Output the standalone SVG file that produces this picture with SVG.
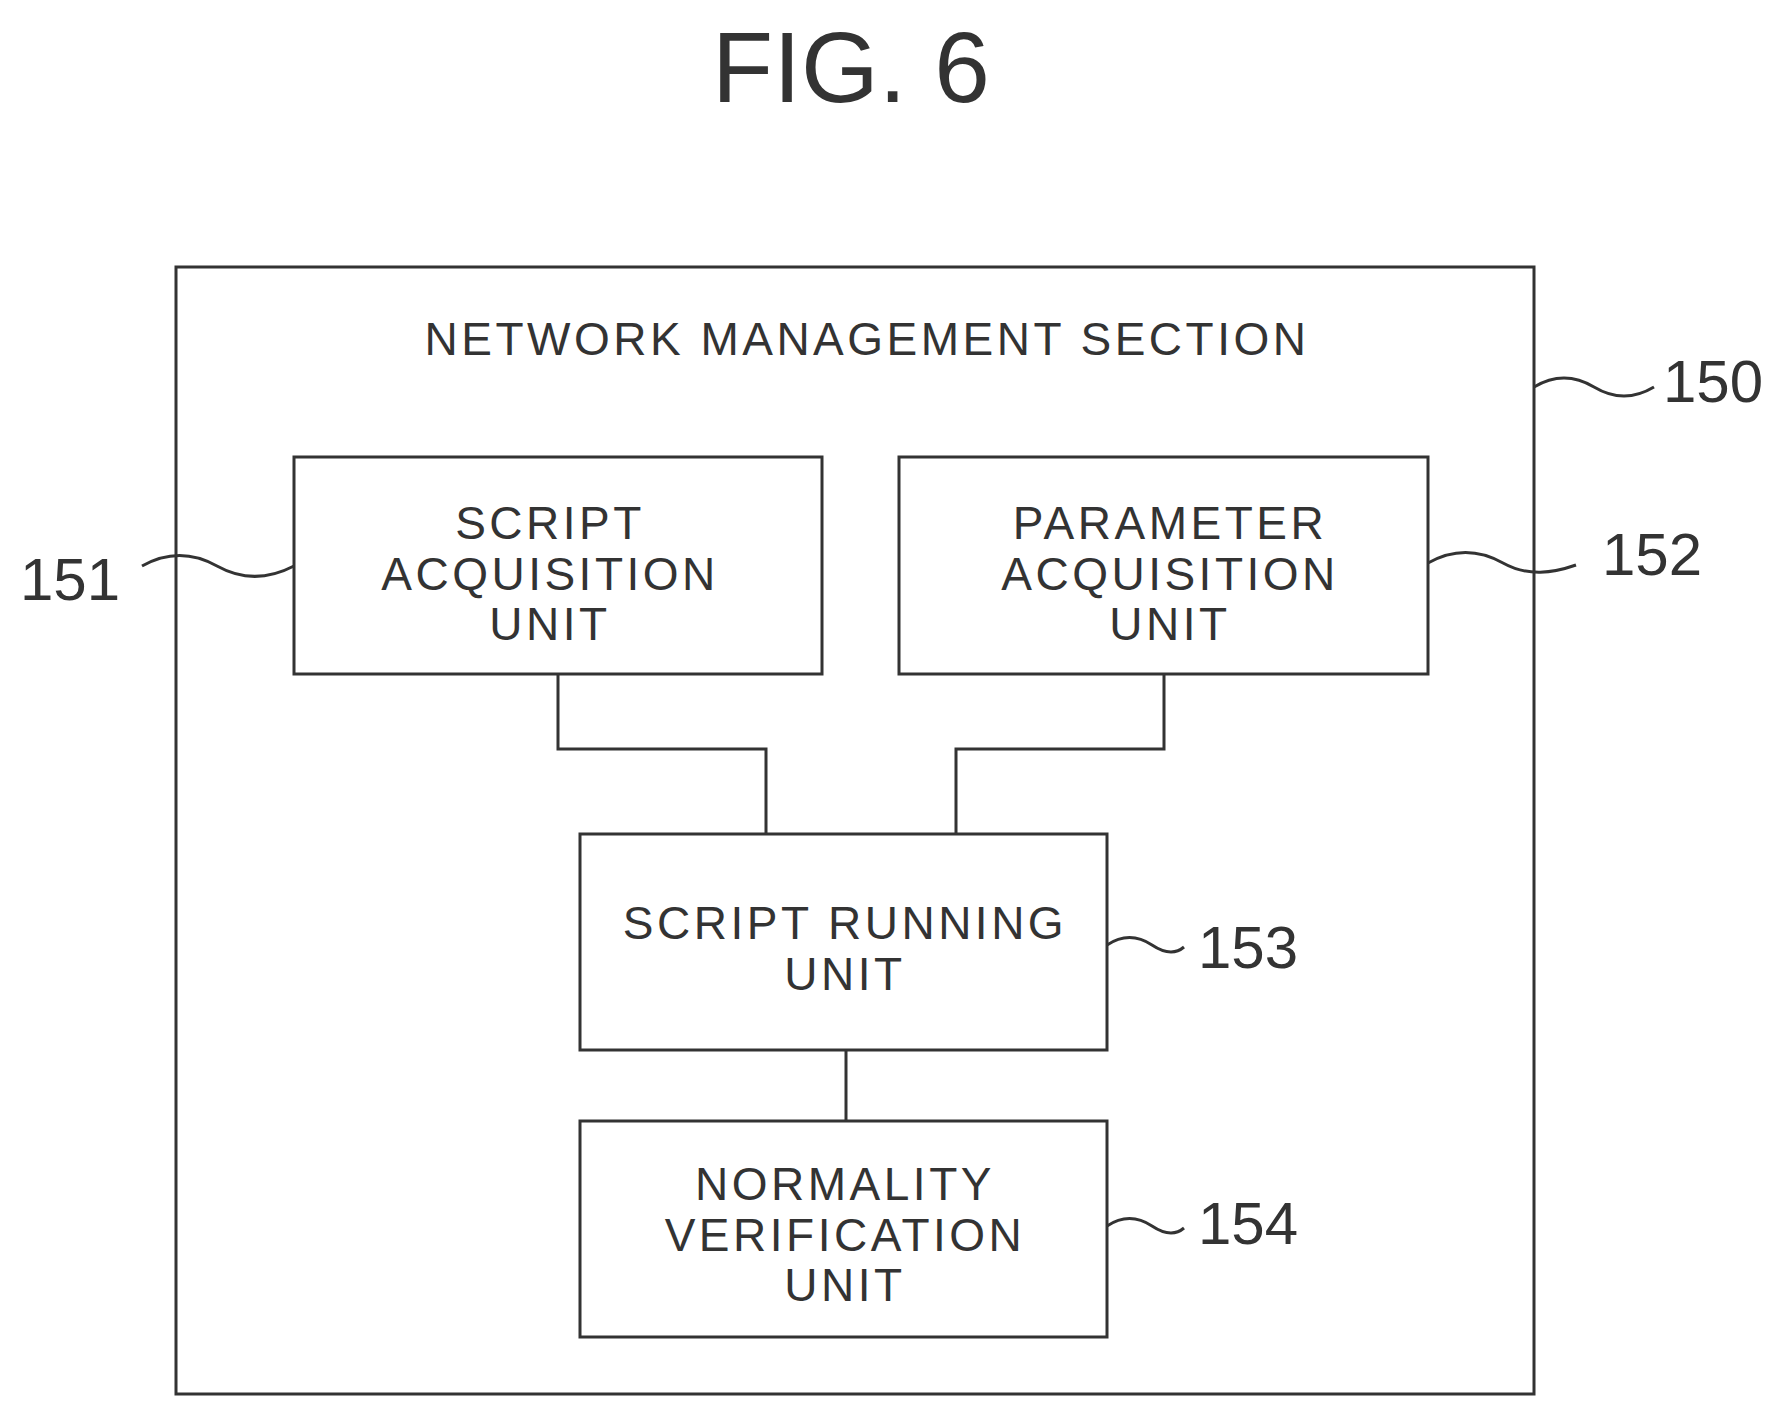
<svg xmlns="http://www.w3.org/2000/svg" width="1777" height="1413" viewBox="0 0 1777 1413">
<style>
rect{fill:none;stroke:#333;stroke-width:3}
path{fill:none;stroke:#333;stroke-width:3}
text{font-family:"Liberation Sans",Arial,sans-serif;fill:#333;text-anchor:middle;font-size:46px;letter-spacing:3.5px}
.n{font-size:60px;letter-spacing:0}
</style>
<rect width="1777" height="1413" fill="#fff" style="stroke:none;fill:#fff"/>
<text x="851" y="102" style="font-size:100px;letter-spacing:0">FIG. 6</text>
<g id="n150"><rect x="176" y="267" width="1358" height="1127"/><text x="867" y="355">NETWORK MANAGEMENT SECTION</text><text class="n" x="1713" y="402">150</text></g>
<g id="n151"><rect x="294" y="457" width="528" height="217"/><text x="550" y="539">SCRIPT</text><text x="550" y="590">ACQUISITION</text><text x="550" y="640">UNIT</text><text class="n" x="70" y="600">151</text></g>
<g id="n152"><rect x="899" y="457" width="529" height="217"/><text x="1170" y="539">PARAMETER</text><text x="1170" y="590">ACQUISITION</text><text x="1170" y="640">UNIT</text><text class="n" x="1652" y="575">152</text></g>
<g id="n153"><rect x="580" y="834" width="527" height="216"/><text x="845" y="939">SCRIPT RUNNING</text><text x="845" y="990">UNIT</text><text class="n" x="1248" y="968">153</text></g>
<g id="n154"><rect x="580" y="1121" width="527" height="216"/><text x="845" y="1200">NORMALITY</text><text x="845" y="1251">VERIFICATION</text><text x="845" y="1301">UNIT</text><text class="n" x="1248" y="1244">154</text></g>
<g id="connectors">
<path d="M558 674V749H766V834"/>
<path d="M1164 674V749H956V834"/>
<path d="M846 1050V1121"/>
<path d="M1534 387c20-12 40-12 60 0s40 12 60 0"/>
<path d="M142 566c25-14 50-14 75 0s50 14 77 0"/>
<path d="M1428 563c25-14 50-14 75 0s50 10 73 2"/>
<path d="M1107 945c15-10 30-10 45 0s25 8 32 2"/>
<path d="M1107 1226c15-10 30-10 45 0s25 8 32 2"/>
</g>
</svg>
